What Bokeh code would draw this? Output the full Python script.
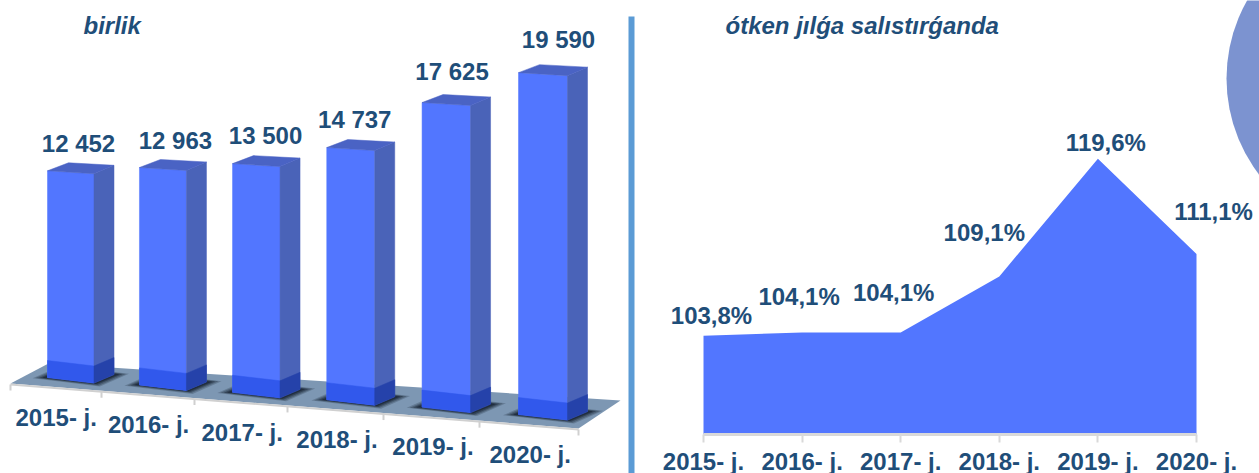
from bokeh.plotting import figure
from bokeh.layouts import row
from bokeh.embed import file_html
from bokeh.resources import INLINE
from bokeh.core.properties import value
from bokeh.models import FixedTicker, Range1d

years = ["2015- j.", "2016- j.", "2017- j.", "2018- j.", "2019- j.", "2020- j."]
units = [12452, 12963, 13500, 14737, 17625, 19590]
unit_labels = ["12 452", "12 963", "13 500", "14 737", "17 625", "19 590"]
growth = [103.8, 104.1, 104.1, 109.1, 119.6, 111.1]
growth_labels = ["103,8%", "104,1%", "104,1%", "109,1%", "119,6%", "111,1%"]
title_left = "birlik"
title_right = "ótken jılǵa salıstırǵanda"

INK = "#1F4E79"
FONT = value("Liberation Sans")
FS = "24px"
n = len(years)

# ---------- left: pseudo-3D columns, the ranges of the figure are in pixels
p1 = figure(width=636, height=473, output_backend="svg", toolbar_location=None,
            x_range=Range1d(0, 636), y_range=Range1d(473, 0),
            min_border=0, outline_line_color=None, background_fill_color="white")
p1.xaxis.visible = False
p1.yaxis.visible = False
p1.grid.visible = False

# floor
p1.patch([10, 48, 620, 578], [383, 363, 400, 428], fill_color="#7D97B3", line_color=None)
p1.line([10, 578], [384, 429], line_color="#D0D0D0", line_width=2)
tick_x = [10, 101, 194, 287, 383, 479, 578]
for tx in tick_x:
    ty = 384 + (tx - 10) * 45 / 568
    p1.line([tx, tx], [ty, ty + 6], line_color="#D0D0D0", line_width=2)

DY_F, DX_S, DY_S = 5.5, 20, -8.5
def face(xs, ys, c):
    p1.patch(xs, ys, fill_color=c, line_color=c, line_width=0.5)

for i, v in enumerate(units):
    x = 47 + 91.4 * i + 0.56 * i * i
    b = 377 + 7.4 * i
    k = 0.0166 + 0.00017 * i
    t = b - v * k
    WF = 46.5 + 0.5 * i
    # footprint shadow: spreads sideways far more than front to back
    fx = [x, x + WF, x + WF + DX_S, x + DX_S]
    fy = [b, b + DY_F, b + DY_F + DY_S, b + DY_S]
    cx, cy = sum(fx) / 4, sum(fy) / 4
    for sx, sy, a in ((1.45, 1.5, 0.22), (1.36, 1.38, 0.3), (1.26, 1.26, 0.42), (1.16, 1.14, 0.6)):
        p1.patch([cx + (q - cx) * sx for q in fx], [cy + (q - cy) * sy for q in fy],
                 fill_color="#14202E", fill_alpha=a, line_color=None)
    # faces
    face([x, x + WF, x + WF, x], [t, t + 3, b + DY_F, b], "#5276FF")
    face([x + WF, x + WF + DX_S, x + WF + DX_S, x + WF],
         [t + 3, t + 3 + DY_S, b + DY_F + DY_S, b + DY_F], "#4A63B8")
    face([x, x + DX_S + 1, x + WF + DX_S, x + WF],
         [t, t - 8, t + 3 + DY_S, t + 3], "#4A63C4")
    # lower part, seen through the floor
    band = 17
    face([x, x + WF, x + WF, x], [b - band, b + DY_F - band, b + DY_F, b], "#3158EC")
    face([x + WF, x + WF + DX_S, x + WF + DX_S, x + WF],
         [b + DY_F - band, b + DY_F + DY_S - band, b + DY_F + DY_S, b + DY_F], "#2542AA")

lab_dx = [31, 36, 33, 28, 30, 40]
lab_dy = [27.5, 27.5, 28, 28, 31, 33]
lx, ly = [], []
for i, v in enumerate(units):
    x = 47 + 91.4 * i + 0.56 * i * i
    b = 377 + 7.4 * i
    k = 0.0166 + 0.00017 * i
    lx.append(x + lab_dx[i])
    ly.append(b - v * k - lab_dy[i])
p1.text(lx, ly, text=unit_labels, text_font=FONT, text_font_style="bold", text_font_size=FS,
        text_color=INK, text_align="center", text_baseline="middle")

yx = [15 + 91.8 * i + 0.6 * i * i for i in range(n)]
yy = [417 + 7.3 * i for i in range(n)]
p1.text(yx, yy, text=years, text_font=FONT, text_font_style="bold", text_font_size=FS,
        text_color=INK, text_align="left", text_baseline="middle")

p1.text([83], [24.5], text=[title_left], text_font=FONT, text_font_style="bold italic",
        text_font_size=FS, text_color=INK, text_align="left", text_baseline="middle")
p1.quad(left=[628], right=[634], top=[16], bottom=[473], fill_color="#5B9BD5", line_color=None)

# ---------- right: area chart on real axes
PX0, PXS = 703, 98.6   # pixel of the first category, pixels per category
x_lo = (636 - PX0) / PXS
x_hi = (1259 - PX0) / PXS
y_base = 95.0
yscale = 11.21  # pixels per percentage point
y_top = y_base + 434 / yscale
y_bot = y_base - (473 - 434) / yscale

p2 = figure(width=623, height=473, output_backend="svg", toolbar_location=None,
            x_range=Range1d(x_lo, x_hi), y_range=Range1d(y_bot, y_top),
            min_border=0, outline_line_color=None, background_fill_color="white")
p2.yaxis.visible = False
p2.grid.visible = False
p2.xaxis.fixed_location = y_base
p2.xaxis.bounds = (0, n - 1)
p2.xaxis.ticker = FixedTicker(ticks=list(range(n)))
p2.xaxis.major_label_overrides = {i: y for i, y in enumerate(years)}
p2.xaxis.major_label_text_font = "Liberation Sans"
p2.xaxis.major_label_text_font_style = "bold"
p2.xaxis.major_label_text_font_size = FS
p2.xaxis.major_label_text_color = INK
p2.xaxis.axis_line_color = "#D9D9D9"
p2.xaxis.axis_line_width = 3
p2.xaxis.major_tick_line_color = "#D9D9D9"
p2.xaxis.major_tick_line_width = 2
p2.xaxis.major_tick_in = 0
p2.xaxis.major_tick_out = 8
p2.xaxis.minor_tick_line_color = None
p2.xaxis.major_label_standoff = 5

p2.scatter([(1384 - PX0) / PXS], [y_top - 78 / yscale], size=316, marker="circle",
           fill_color="#7C93D0", line_color=None)
xs = list(range(n))
p2.varea(xs, [y_base] * n, growth, fill_color="#5276FF")

off_x = [8, -3, -7, -15, 8, 17]
off_y = [-20, -36, -40, -44, -16, -43]
p2.text(xs, growth, text=growth_labels, x_offset=off_x, y_offset=off_y,
        text_font=FONT, text_font_style="bold", text_font_size=FS, text_color=INK,
        text_align="center", text_baseline="middle")
p2.text([(725 - PX0) / PXS], [y_top - 24.5 / yscale], text=[title_right], text_font=FONT,
        text_font_style="bold italic", text_font_size=FS, text_color=INK,
        text_align="left", text_baseline="middle")

layout = row(p1, p2, spacing=0)
open("out.html", "w").write(file_html(layout, INLINE))
